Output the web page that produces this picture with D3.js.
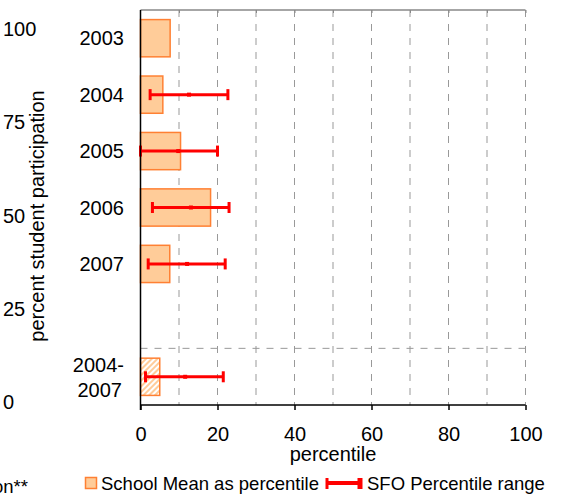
<!DOCTYPE html>
<html>
<head>
<meta charset="utf-8">
<script src="https://cdn.jsdelivr.net/npm/d3@7"></script>
<style>
  body { margin: 0; background: #fff; }
  svg { display: block; font-family: Arial, "Liberation Sans", sans-serif; }
</style>
</head>
<body>
<div id="container"></div>
<script>
// School mean vs SFO percentile range, horizontal bars

//_____ DATA _____
const categories = [ '2003', '2004', '2005', '2006', '2007', 'gap', '2004-2007' ];
const schoolMean = [ 7.7, 5.8, 10.4, 18.2, 7.6, null, 5.0 ];
const sfoLow = [ null, 2.5, 0.0, 3.1, 2.0, null, 1.3 ];
const sfoMid = [ null, 12.6, 9.8, 13.1, 12.1, null, 11.6 ];
const sfoHigh = [ null, 22.7, 20.0, 23.0, 22.0, null, 21.5 ];
const xTicks = [ 0, 20, 40, 60, 80, 100 ];
const gridTicks = [ 10, 20, 30, 40, 50, 60, 70, 80, 90, 100 ];
const leftTicks = [ 0, 25, 50, 75, 100 ];

const width = 567, height = 494;
const plot = { left: 140.5, right: 525.5, top: 10, bottom: 405 };

const svg = d3.select( '#container' ).append( 'svg' )
  .attr( 'width', width )
  .attr( 'height', height );

//>>> hatch pattern for the pooled bar
const defs = svg.append( 'defs' );
defs.append( 'pattern' )
  .attr( 'id', 'hatch' )
  .attr( 'patternUnits', 'userSpaceOnUse' )
  .attr( 'width', 4 ).attr( 'height', 4 )
  .attr( 'patternTransform', 'rotate(45)' )
  .append( 'rect' )
  .attr( 'width', 2 ).attr( 'height', 4 )
  .attr( 'fill', '#FFCC99' );

//_____ SCALES _____
const x = d3.scaleLinear().domain( [ 0, 100 ] ).range( [ plot.left, plot.right ] );
const y = d3.scaleBand().domain( categories ).range( [ plot.top, plot.bottom ] )
  .paddingInner( 0.34 ).paddingOuter( 0.17 );
const yLeft = d3.scaleLinear().domain( [ 0, 100 ] ).range( [ 402, 29 ] );

//_____ GRID _____
svg.append( 'g' ).selectAll( 'line' )
  .data( gridTicks ).join( 'line' )
  .attr( 'x1', d => x( d ) ).attr( 'x2', d => x( d ) )
  .attr( 'y1', plot.top ).attr( 'y2', plot.bottom )
  .attr( 'stroke', '#999' )
  .attr( 'stroke-dasharray', '7,7' );

//>>> separator before pooled row
const sepY = y( 'gap' ) + y.bandwidth() / 2 + 28;
svg.append( 'line' )
  .attr( 'x1', plot.left ).attr( 'x2', plot.right )
  .attr( 'y1', sepY ).attr( 'y2', sepY )
  .attr( 'stroke', '#999' )
  .attr( 'stroke-dasharray', '7,7' );

//>>> top border with small ticks
const topAxis = d3.axisTop( x ).tickValues( gridTicks ).tickSize( -3 ).tickFormat( '' );
const gTop = svg.append( 'g' ).attr( 'transform', `translate(0,${plot.top})` ).call( topAxis );
gTop.select( '.domain' ).attr( 'stroke', '#888' ).attr( 'stroke-width', 1.5 ).attr( 'd', `M${plot.left},0H${plot.right}` );
gTop.selectAll( '.tick line' ).attr( 'stroke', '#888' );

//_____ BARS _____
const rows = categories.map( ( c, i ) => ( {
  cat: c, mean: schoolMean[ i ], low: sfoLow[ i ], mid: sfoMid[ i ], high: sfoHigh[ i ]
} ) );

svg.append( 'g' ).selectAll( 'rect' )
  .data( rows.filter( d => d.mean != null ) ).join( 'rect' )
  .attr( 'x', x( 0 ) )
  .attr( 'y', d => y( d.cat ) )
  .attr( 'width', d => x( d.mean ) - x( 0 ) )
  .attr( 'height', y.bandwidth() )
  .attr( 'fill', d => d.cat === '2004-2007' ? 'url(#hatch)' : '#FFCC99' )
  .attr( 'stroke', '#FF8033' )
  .attr( 'stroke-width', 1.5 );

//_____ ERROR BARS _____
const err = svg.append( 'g' ).selectAll( 'g' )
  .data( rows.filter( d => d.low != null ) ).join( 'g' )
  .attr( 'transform', d => `translate(0,${y( d.cat ) + y.bandwidth() / 2})` );

err.append( 'line' )
  .attr( 'x1', d => x( d.low ) ).attr( 'x2', d => x( d.high ) )
  .attr( 'stroke', '#FF0000' ).attr( 'stroke-width', 3 );
err.selectAll( '.cap' )
  .data( d => [ d.low, d.high ] ).join( 'line' )
  .attr( 'class', 'cap' )
  .attr( 'x1', v => x( v ) ).attr( 'x2', v => x( v ) )
  .attr( 'y1', -5.5 ).attr( 'y2', 5.5 )
  .attr( 'stroke', '#FF0000' ).attr( 'stroke-width', 3 );
err.append( 'rect' )
  .attr( 'x', d => x( d.mid ) - 2 ).attr( 'y', -2 )
  .attr( 'width', 4 ).attr( 'height', 4 )
  .attr( 'fill', '#FF0000' );

//_____ AXES _____
const gLeft = svg.append( 'g' ).attr( 'transform', `translate(${plot.left},0)` );
gLeft.append( 'line' )
  .attr( 'y1', plot.top ).attr( 'y2', plot.bottom + 5 )
  .attr( 'stroke', '#000' ).attr( 'stroke-width', 1.5 );

const xAxis = d3.axisBottom( x ).tickValues( xTicks ).tickSize( 5 ).tickPadding( 17 );
const gX = svg.append( 'g' ).attr( 'transform', `translate(0,${plot.bottom})` ).call( xAxis );
gX.select( '.domain' ).attr( 'stroke-width', 1.5 ).attr( 'd', `M${plot.left},0H${plot.right}` );
gX.selectAll( '.tick line' ).attr( 'stroke-width', 1.5 );
gX.selectAll( 'text' ).attr( 'font-size', 20 ).attr( 'font-family', 'Arial, "Liberation Sans", sans-serif' ).attr( 'fill', '#000' );

svg.append( 'text' )
  .attr( 'x', x( 50 ) ).attr( 'y', 461 )
  .attr( 'text-anchor', 'middle' ).attr( 'font-size', 20 )
  .text( 'percentile' );

//>>> category labels
const labels = svg.append( 'g' ).attr( 'font-size', 20 ).attr( 'text-anchor', 'end' );
categories.forEach( c => {
  if ( c === 'gap' ) return;
  const cy = y( c ) + y.bandwidth() / 2;
  if ( c === '2004-2007' ) {
    labels.append( 'text' ).attr( 'x', 124 ).attr( 'y', cy - 5 ).text( '2004-' );
    labels.append( 'text' ).attr( 'x', 122 ).attr( 'y', cy + 20 ).text( '2007' );
  } else {
    labels.append( 'text' ).attr( 'x', 124 ).attr( 'y', cy ).attr( 'dy', '0.35em' ).text( c );
  }
} );

//_____ LEFT (cut-off neighbour chart) _____
svg.append( 'g' ).attr( 'font-size', 20 ).selectAll( 'text' )
  .data( leftTicks ).join( 'text' )
  .attr( 'x', 3 ).attr( 'y', d => yLeft( d ) ).attr( 'dy', '0.35em' )
  .text( d => d );

svg.append( 'text' )
  .attr( 'transform', 'translate(44,216) rotate(-90)' )
  .attr( 'text-anchor', 'middle' ).attr( 'font-size', 20 )
  .text( 'percent student participation' );

svg.append( 'text' )
  .attr( 'x', 28 ).attr( 'y', 493 )
  .attr( 'text-anchor', 'end' ).attr( 'font-size', 18.5 )
  .text( 'student participation**' );

//_____ LEGEND _____
const legend = svg.append( 'g' ).attr( 'font-size', 18.5 );
legend.append( 'rect' )
  .attr( 'x', 85.5 ).attr( 'y', 477.5 ).attr( 'width', 11 ).attr( 'height', 11 )
  .attr( 'fill', '#FFCC99' ).attr( 'stroke', '#FF8033' ).attr( 'stroke-width', 1.5 );
legend.append( 'text' ).attr( 'x', 101 ).attr( 'y', 490 ).text( 'School Mean as percentile' );
legend.append( 'line' )
  .attr( 'x1', 326 ).attr( 'x2', 361 ).attr( 'y1', 483 ).attr( 'y2', 483 )
  .attr( 'stroke', '#FF0000' ).attr( 'stroke-width', 4 );
legend.append( 'line' )
  .attr( 'x1', 327 ).attr( 'x2', 327 ).attr( 'y1', 478 ).attr( 'y2', 489 )
  .attr( 'stroke', '#FF0000' ).attr( 'stroke-width', 3 );
legend.append( 'line' )
  .attr( 'x1', 360 ).attr( 'x2', 360 ).attr( 'y1', 478 ).attr( 'y2', 489 )
  .attr( 'stroke', '#FF0000' ).attr( 'stroke-width', 5 );
legend.append( 'text' ).attr( 'x', 367 ).attr( 'y', 490 ).text( 'SFO Percentile range' );
</script>
</body>
</html>
